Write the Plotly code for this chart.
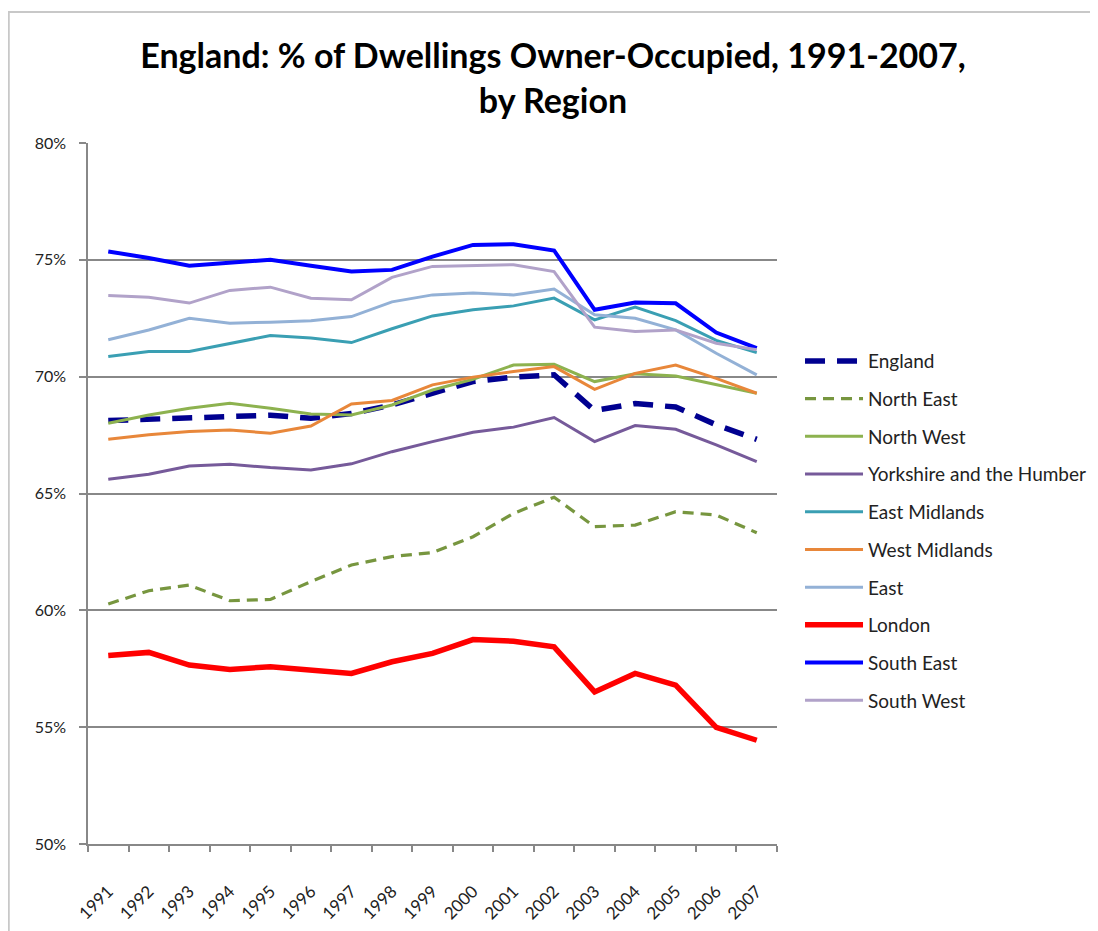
import plotly.graph_objects as go

years = [str(y) for y in range(1991, 2008)]

england = [68.12, 68.19, 68.26, 68.32, 68.35, 68.22, 68.42, 68.79, 69.29, 69.79, 69.98, 70.08, 68.55, 68.85, 68.7, 67.94, 67.32]
north_east = [60.27, 60.84, 61.08, 60.41, 60.47, 61.23, 61.94, 62.3, 62.47, 63.15, 64.15, 64.84, 63.58, 63.65, 64.22, 64.08, 63.32]
north_west = [68.01, 68.36, 68.65, 68.86, 68.65, 68.4, 68.36, 68.79, 69.43, 69.89, 70.5, 70.53, 69.79, 70.12, 70.03, 69.65, 69.29]
yorkshire = [65.61, 65.82, 66.18, 66.25, 66.11, 66.01, 66.27, 66.79, 67.22, 67.62, 67.84, 68.25, 67.22, 67.91, 67.75, 67.08, 66.36]
east_midlands = [70.86, 71.08, 71.08, 71.43, 71.76, 71.65, 71.46, 72.05, 72.6, 72.86, 73.03, 73.36, 72.43, 72.98, 72.4, 71.55, 71.03]
west_midlands = [67.32, 67.51, 67.65, 67.72, 67.58, 67.89, 68.83, 68.98, 69.65, 69.98, 70.22, 70.43, 69.46, 70.14, 70.5, 69.93, 69.29]
east = [71.58, 72.0, 72.5, 72.29, 72.33, 72.39, 72.57, 73.2, 73.5, 73.58, 73.5, 73.75, 72.65, 72.5, 72.0, 71.0, 70.08]
london = [58.07, 58.2, 57.66, 57.47, 57.59, 57.47, 57.3, 57.8, 58.16, 58.75, 58.68, 58.44, 56.51, 57.3, 56.8, 54.99, 54.44]
south_east = [75.36, 75.08, 74.75, 74.89, 75.0, 74.75, 74.5, 74.57, 75.14, 75.64, 75.67, 75.4, 72.86, 73.17, 73.14, 71.89, 71.22]
south_west = [73.47, 73.4, 73.15, 73.69, 73.83, 73.36, 73.29, 74.25, 74.72, 74.74, 74.79, 74.5, 72.12, 71.93, 72.0, 71.43, 71.15]

series = [
    ("England", england, "#000090", 5.5, "20px,12px"),
    ("North East", north_east, "#77963F", 3.2, "11px,7px"),
    ("North West", north_west, "#8DB24F", 3, "solid"),
    ("Yorkshire and the Humber", yorkshire, "#765A9A", 3, "solid"),
    ("East Midlands", east_midlands, "#3A9FB3", 3, "solid"),
    ("West Midlands", west_midlands, "#E8873A", 3, "solid"),
    ("East", east, "#93B1D6", 3, "solid"),
    ("London", london, "#FF0000", 5.5, "solid"),
    ("South East", south_east, "#0000FF", 4, "solid"),
    ("South West", south_west, "#B1A2C9", 3, "solid"),
]

fig = go.Figure()
for i, (name, vals, col, w, dash) in enumerate(series):
    fig.add_trace(go.Scatter(
        x=years, y=vals, name=name, mode="lines",
        line=dict(color=col, width=w, dash=dash),
        legendgroup=name, legendrank=i + 1,
    ))

FONT = "Lato, 'Open Sans', sans-serif"

fig.update_layout(
    width=1090, height=923,
    paper_bgcolor="white", plot_bgcolor="white",
    margin=dict(l=80, r=321, t=135, b=87, autoexpand=False),
    font=dict(family=FONT, color="#222222"),
    title=dict(
        text="<b>England: % of Dwellings Owner-Occupied, 1991-2007,<br>by Region</b>",
        x=0.5, xref="container", xanchor="center",
        y=0.9345, yref="container", yanchor="middle",
        font=dict(size=34, color="black", family=FONT),
    ),
    showlegend=True,
    legend=dict(
        x=1.0334, xanchor="left", y=0.716, yanchor="top",
        traceorder="grouped", tracegroupgap=10,
        itemwidth=58,
        font=dict(size=19, color="#222222"),
        bgcolor="rgba(0,0,0,0)",
    ),
)

fig.update_xaxes(
    type="category", range=[-0.5, 16.5],
    tickangle=-45, tickson="boundaries", ticks="outside", ticklen=6,
    tickcolor="#888888", tickwidth=1.5,
    showline=True, linecolor="#888888", linewidth=1.5,
    showgrid=False, zeroline=False,
    ticklabelstandoff=29,
    tickfont=dict(size=17, color="#222222"),
)
fig.update_yaxes(
    range=[50, 80], dtick=5, ticksuffix="%",
    ticks="outside", ticklen=7, tickcolor="#888888", tickwidth=1.5,
    showline=True, linecolor="#888888", linewidth=1.5,
    showgrid=True, gridcolor="#888888", gridwidth=1.5,
    zeroline=False,
    ticklabelstandoff=10,
    tickfont=dict(size=16, color="#222222"),
)

# outer chart frame
fig.add_shape(type="rect", xref="paper", yref="paper",
              x0=-0.115, x1=1.6, y0=-0.3, y1=1.187,
              line=dict(color="#C8C8C8", width=2), fillcolor="rgba(0,0,0,0)", layer="below")

fig.write_html("out.html")
